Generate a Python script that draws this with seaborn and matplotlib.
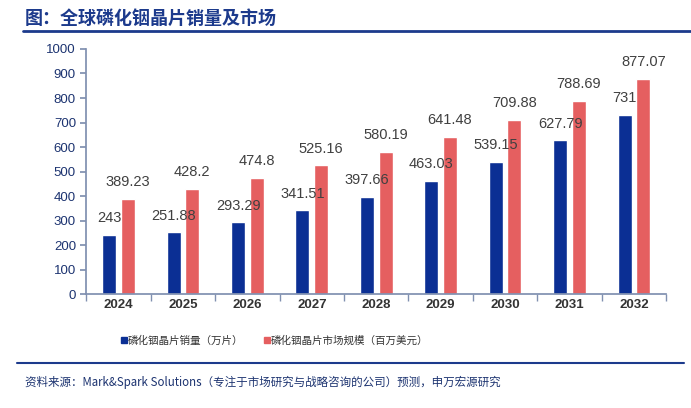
import numpy as np
import pandas as pd
import matplotlib
matplotlib.use("Agg")
import matplotlib.pyplot as plt
import seaborn as sns
from matplotlib.lines import Line2D

years = ["2024", "2025", "2026", "2027", "2028", "2029", "2030", "2031", "2032"]
volume = [243, 251.88, 293.29, 341.51, 397.66, 463.03, 539.15, 627.79, 731]
market = [389.23, 428.2, 474.8, 525.16, 580.19, 641.48, 709.88, 788.69, 877.07]
volume_labels = ["243", "251.88", "293.29", "341.51", "397.66", "463.03", "539.15", "627.79", "731"]
market_labels = ["389.23", "428.2", "474.8", "525.16", "580.19", "641.48", "709.88", "788.69", "877.07"]
series_names = ["磷化铟晶片销量（万片）", "磷化铟晶片市场规模（百万美元）"]
colors = ["#0b2f94", "#e55f60"]

sns.set_theme(style="white")
plt.rcParams["font.family"] = ["Liberation Sans", "Noto Sans CJK SC", "DejaVu Sans"]

df = pd.DataFrame({
    "year": years * 2,
    "value": volume + market,
    "series": [series_names[0]] * len(years) + [series_names[1]] * len(years),
})

fig = plt.figure(figsize=(6.91, 4.08), dpi=100)
ax = fig.add_axes([0.125, 0.279, 0.839, 0.601])

sns.barplot(data=df, x="year", y="value", hue="series", palette=colors,
            width=0.58, gap=0.25, ax=ax, legend=False, saturation=1)

for container, labels in zip(ax.containers, [volume_labels, market_labels]):
    ax.bar_label(container, labels=labels, padding=7, fontsize=10.5, color="#404040")

ax.set_ylim(0, 1000)
ax.set_xlim(-0.5, len(years) - 0.5)
ax.set_yticks(np.arange(0, 1001, 100))
ax.set_xlabel("")
ax.set_ylabel("")
for s in ["top", "right"]:
    ax.spines[s].set_visible(False)
ax.spines["left"].set_color("#8090b0")
ax.spines["bottom"].set_color("#8090b0")
ax.tick_params(axis="y", length=4, color="#8090b0", labelsize=9.5, labelcolor="#1c3370", direction="out", left=True)
ax.tick_params(axis="x", length=0, labelsize=9.5, labelcolor="#333333")
for lbl in ax.get_xticklabels():
    lbl.set_fontweight("bold")
# category boundary ticks
ax.set_xticks(np.arange(-0.5, len(years), 1), minor=True)
ax.tick_params(axis="x", which="minor", length=5, color="#8090b0", bottom=True)

handles = [Line2D([0], [0], marker="s", linestyle="", markersize=4.5,
                  markerfacecolor=c, markeredgecolor=c) for c in colors]
fig.legend(handles, series_names, loc="center", bbox_to_anchor=(0.395, 0.165), ncol=2,
           frameon=False, handletextpad=-0.2, columnspacing=1.6, handlelength=1.2,
           labelcolor="#333333", prop={"family": ["Noto Sans CJK SC"], "size": 7.6})

fig.text(0.036, 0.955, "图：全球磷化铟晶片销量及市场", fontsize=13, fontweight="bold",
         color="#1c3a8c", family=["Noto Sans CJK SC"], va="center")
fig.add_artist(Line2D([0.033, 1.0], [0.925, 0.925], color="#1c3a8c", linewidth=2,
                      transform=fig.transFigure))
fig.add_artist(Line2D([0.025, 0.99], [0.11, 0.11], color="#1c3a8c", linewidth=1.5,
                      transform=fig.transFigure))
fig.text(0.036, 0.063, "资料来源：Mark&Spark Solutions（专注于市场研究与战略咨询的公司）预测，申万宏源研究",
         fontsize=8.3, color="#1c3370", va="center",
         family=["Noto Sans CJK SC", "DejaVu Sans"])

fig.savefig("out.png", dpi=100)
